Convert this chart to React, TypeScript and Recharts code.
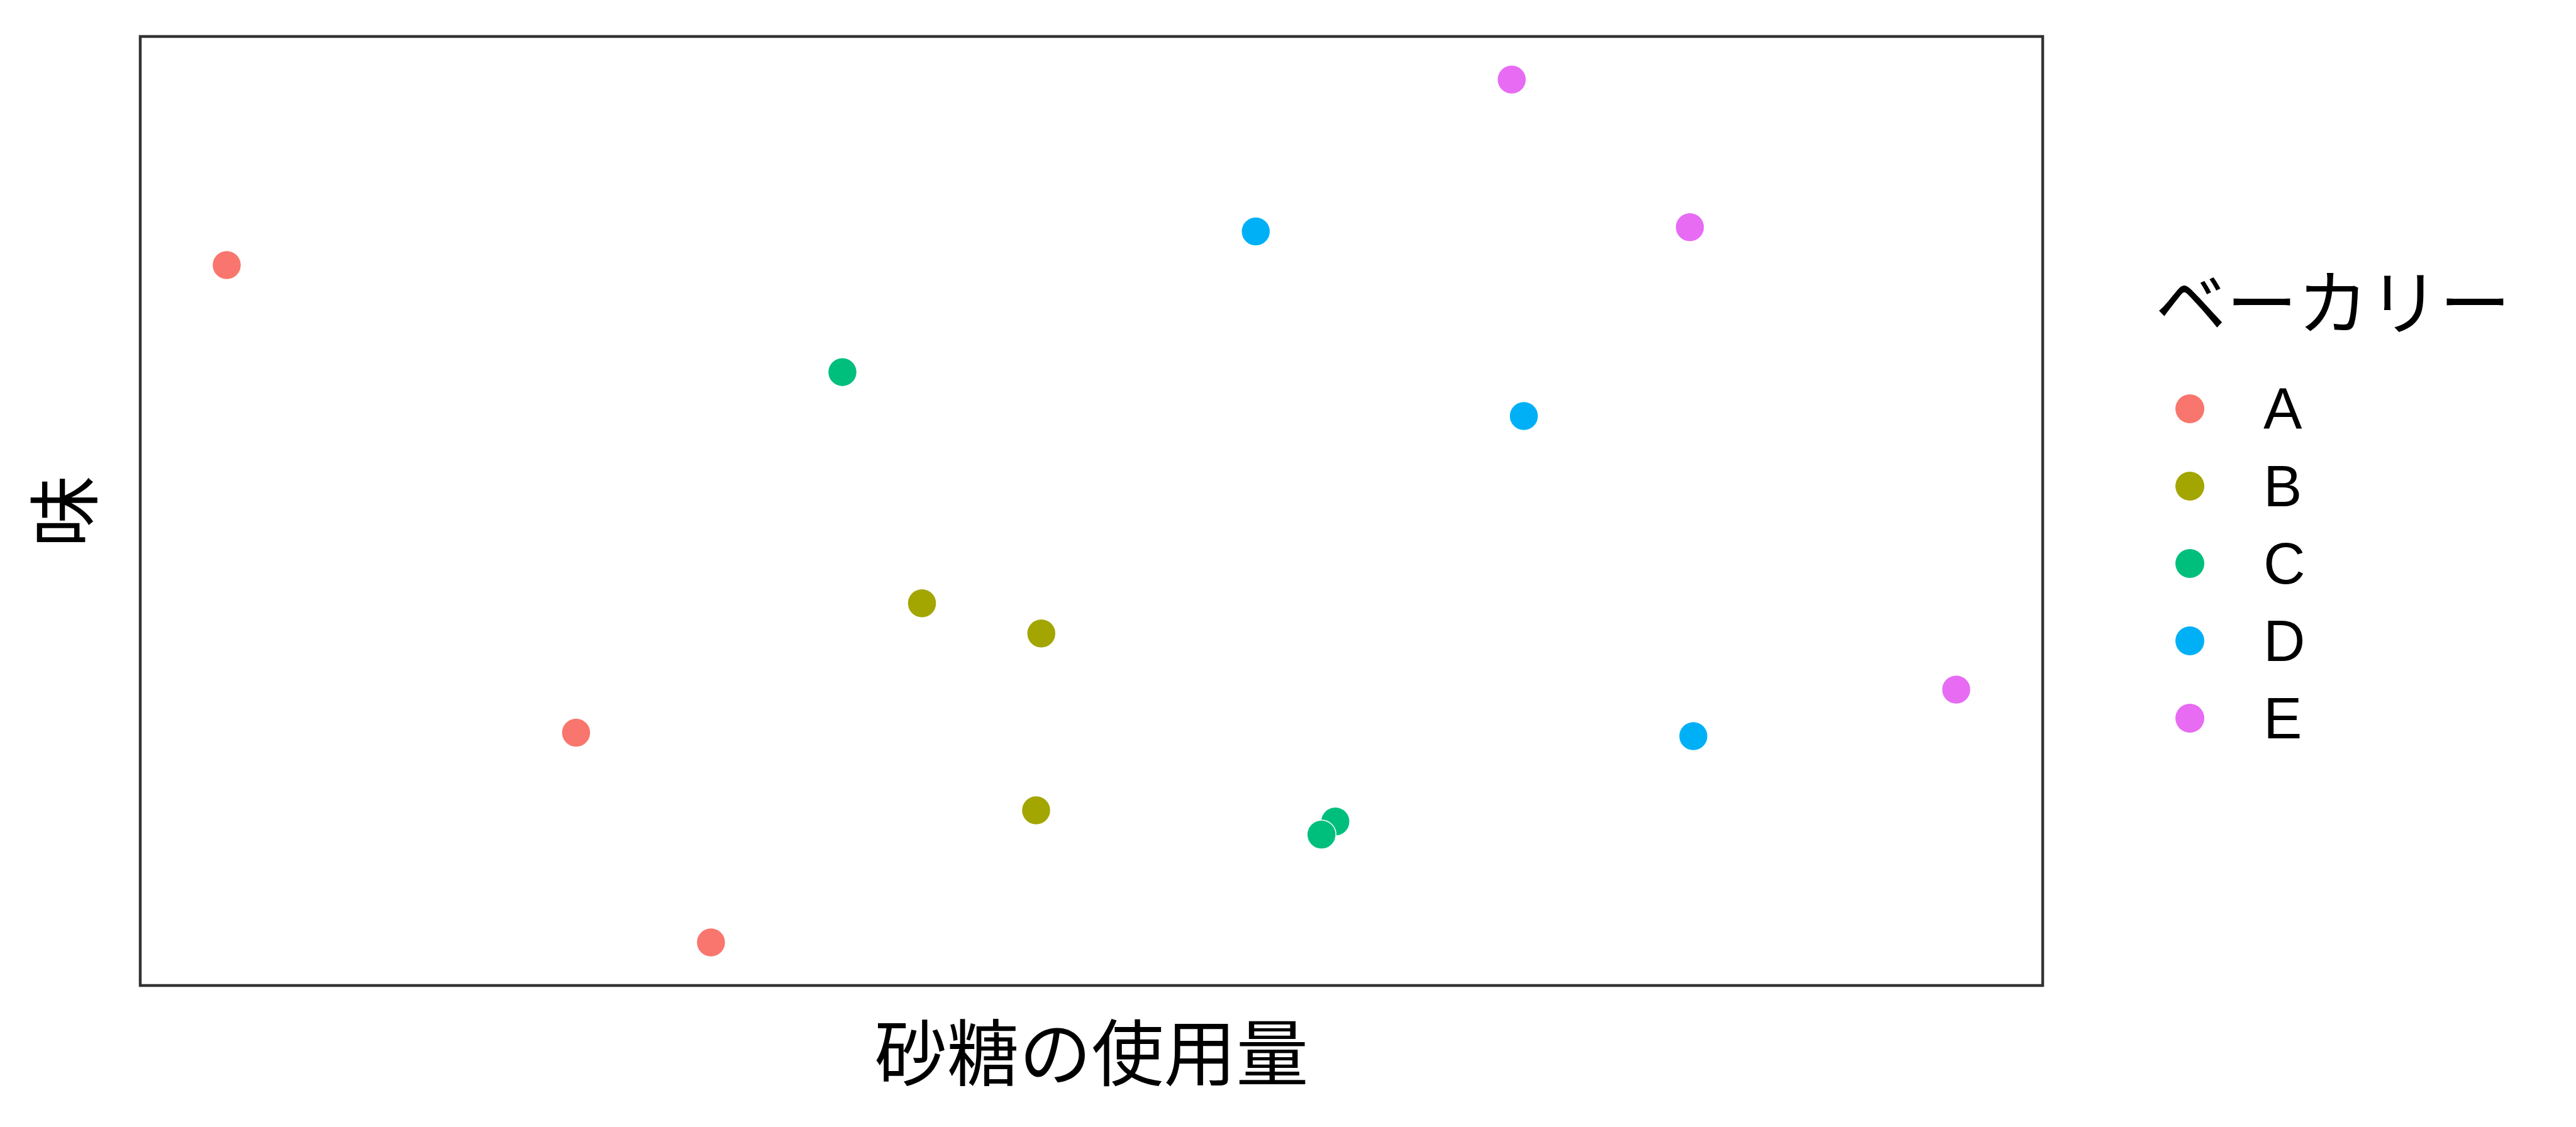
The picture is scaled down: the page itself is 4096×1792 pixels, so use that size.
import React from 'react';
import { ScatterChart, Scatter, XAxis, YAxis, ReferenceArea } from 'recharts';

const bakeries = ['A', 'B', 'C', 'D', 'E'];
const bakeryColors = ['#F8766D', '#A3A500', '#00BF7D', '#00B0F6', '#E76BF3'];

const sugarA = [0.0, 2.02, 2.8];
const tasteA = [7.85, 2.43, 0.0];
const sugarB = [4.02, 4.71, 4.68];
const tasteB = [3.93, 3.58, 1.53];
const sugarC = [3.56, 6.41, 6.33];
const tasteC = [6.61, 1.4, 1.25];
const sugarD = [5.95, 7.5, 8.48];
const tasteD = [8.24, 6.1, 2.39];
const sugarE = [7.43, 8.46, 10.0];
const tasteE = [10.0, 8.29, 2.93];

const sugarBy = [sugarA, sugarB, sugarC, sugarD, sugarE];
const tasteBy = [tasteA, tasteB, tasteC, tasteD, tasteE];

const xTitle = '砂糖の使用量';
const yTitle = '味';
const legendTitle = 'ベーカリー';

const W = 4096;
const H = 1792;
const PANEL = { left: 223, right: 3248, top: 58, bottom: 1567 };
const R = 23;

const series = bakeries.map((name, i) => ({
  name,
  color: bakeryColors[i],
  data: sugarBy[i].map((x, j) => ({ x, y: tasteBy[i][j] })),
}));

const cjk = '"Noto Sans CJK JP", "Noto Sans", sans-serif';
const latin = '"Liberation Sans", Arial, "Noto Sans CJK JP", sans-serif';

const LegendBox = () => (
  <div style={{ position: 'absolute', left: 3427, top: 418, width: 700, height: 800 }}>
    <div
      style={{
        position: 'absolute',
        left: 0,
        top: 0,
        fontFamily: cjk,
        fontSize: 113,
        lineHeight: 1,
        whiteSpace: 'nowrap',
        color: '#000',
      }}
    >
      {legendTitle}
    </div>
    {series.map((s, i) => (
      <div key={s.name}>
        <svg
          style={{ position: 'absolute', left: 55 - R, top: 232 + i * 123 - R }}
          width={2 * R}
          height={2 * R}
        >
          <circle cx={R} cy={R} r={R} fill={s.color} />
        </svg>
        <div
          style={{
            position: 'absolute',
            left: 172,
            top: 232 + i * 123,
            transform: 'translateY(-50%)',
            fontFamily: latin,
            fontSize: 92,
            lineHeight: 1,
            color: '#000',
          }}
        >
          {s.name}
        </div>
      </div>
    ))}
  </div>
);

const Dot = (props: any) => {
  const { cx, cy, fill } = props;
  if (cx == null || cy == null) return null;
  return <circle cx={cx} cy={cy} r={R} fill={fill} stroke="#ffffff" strokeWidth={1.5} />;
};

export default function App() {
  return (
    <div style={{ position: 'absolute', left: 0, top: 0, width: W, height: H, background: '#fff' }}>
      <ScatterChart
        width={W}
        height={H}
        margin={{ left: PANEL.left, right: W - PANEL.right, top: PANEL.top, bottom: H - PANEL.bottom }}
      >
        <XAxis type="number" dataKey="x" domain={[-0.5, 10.5]} hide />
        <YAxis type="number" dataKey="y" domain={[-0.5, 10.5]} hide />
        {series.map((s) => (
          <Scatter
            key={s.name}
            name={s.name}
            data={s.data}
            fill={s.color}
            shape={<Dot />}
            isAnimationActive={false}
          />
        ))}
        <ReferenceArea
          x1={-0.5}
          x2={10.5}
          y1={-0.5}
          y2={10.5}
          fill="none"
          stroke="#333333"
          strokeWidth={4.5}
          ifOverflow="visible"
        />
      </ScatterChart>
      <LegendBox />
      <div
        style={{
          position: 'absolute',
          left: (PANEL.left + PANEL.right) / 2,
          top: 1667,
          transform: 'translate(-50%, -50%)',
          fontFamily: cjk,
          fontSize: 115,
          lineHeight: 1,
          whiteSpace: 'nowrap',
          color: '#000',
        }}
      >
        {xTitle}
      </div>
      <div
        style={{
          position: 'absolute',
          left: 95,
          top: (PANEL.top + PANEL.bottom) / 2,
          transform: 'translate(-50%, -50%) rotate(-90deg)',
          fontFamily: cjk,
          fontSize: 115,
          lineHeight: 1,
          whiteSpace: 'nowrap',
          color: '#000',
        }}
      >
        {yTitle}
      </div>
    </div>
  );
}
